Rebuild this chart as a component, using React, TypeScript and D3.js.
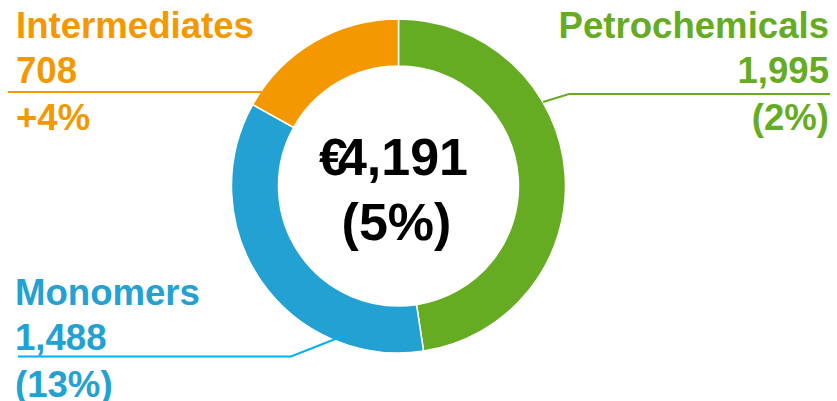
import React from "react";
import * as d3 from "d3";

const categories = ["Petrochemicals", "Monomers", "Intermediates"];
const values = [1995, 1488, 708];
const changes = ["(2%)", "(13%)", "+4%"];
const colors = ["#66AC23", "#23A1D3", "#F39800"];
const lineColors = ["#66AC23", "#00B0F0", "#F39800"];
const totalLabel = "4,191";
const totalChange = "(5%)";

const W = 837;
const H = 401;
const cx = 398.5;
const cy = 186;
const outerR = 167;
const innerR = 120;
const FONT = "'Liberation Sans', Arial, sans-serif";

export default function App() {
  const pie = d3
    .pie<number>()
    .sort(null)
    .startAngle(0)
    .endAngle(2 * Math.PI)
    .value((d) => d);
  const arcs = pie(values);
  const arc = d3.arc<d3.PieArcDatum<number>>().innerRadius(innerR).outerRadius(outerR);
  const fmt = d3.format(",");

  const layout = [
    {
      anchor: "end",
      x: 829,
      y: 38,
      line: [[830, 94], [569, 94], [543, 102]],
    },
    {
      anchor: "start",
      x: 15,
      y: 305,
      line: [[18, 356.5], [291, 356.5], [343, 336]],
    },
    {
      anchor: "start",
      x: 16,
      y: 38,
      line: [[8, 92], [265, 92]],
    },
  ];

  return (
    <svg width={W} height={H} style={{ position: "absolute", left: 0, top: 0 }}>
      <rect width={W} height={H} fill="#ffffff" />
      <g transform={`translate(${cx},${cy})`}>
        {arcs.map((a, i) => (
          <path key={i} d={arc(a) || ""} fill={colors[i]} stroke="#ffffff" strokeWidth={1.5} />
        ))}
      </g>
      {layout.map((l, i) => (
        <g key={i}>
          <path
            d={d3.line()(l.line as [number, number][]) || ""}
            fill="none"
            stroke={lineColors[i]}
            strokeWidth={2}
          />
          <text
            fontFamily={FONT}
            fontWeight="bold"
            fontSize={36.6}
            fill={colors[i]}
            textAnchor={l.anchor}
          >
            <tspan x={l.x} y={l.y}>{categories[i]}</tspan>
            <tspan x={l.x} y={l.y + 45}>{fmt(values[i])}</tspan>
            <tspan x={l.x} y={l.y + 92}>{changes[i]}</tspan>
          </text>
        </g>
      ))}
      <text fontFamily={FONT} fontWeight="bold" fontSize={52} fill="#000" textAnchor="middle">
        <tspan x={cx - 5} y={175}>
          €<tspan dx={-10}>{totalLabel}</tspan>
        </tspan>
        <tspan x={cx - 2} y={240}>{totalChange}</tspan>
      </text>
    </svg>
  );
}
